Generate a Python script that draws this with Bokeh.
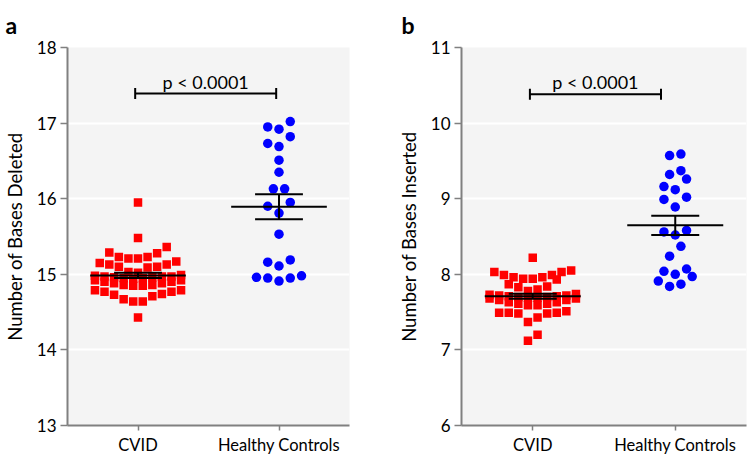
import numpy as np
from bokeh.plotting import figure
from bokeh.layouts import row
from bokeh.models import FixedTicker, Range1d
from bokeh.core.properties import value
from bokeh.embed import file_html
from bokeh.resources import INLINE

# ---------------- data ----------------
categories = ["CVID", "Healthy Controls"]

cvid_deleted = [15.95, 15.48, 15.36, 15.29, 15.28,
                15.23, 15.21, 15.21, 15.23,
                15.17, 15.15, 15.13, 15.13, 15.10, 15.10, 15.09,
                15.03, 15.02,
                14.99, 14.98, 14.97, 14.97, 14.97, 14.96, 14.96, 14.95, 14.95, 14.94,
                14.92, 14.92, 14.90, 14.90, 14.88, 14.88, 14.86, 14.86, 14.85, 14.85,
                14.79, 14.79, 14.77, 14.77, 14.74, 14.73, 14.71, 14.67, 14.64, 14.64,
                14.43]
hc_deleted = [17.02, 16.95, 16.92, 16.82, 16.73, 16.69, 16.51, 16.35, 16.13, 16.13,
              15.95, 15.90, 15.81, 15.53, 15.19, 15.16, 15.11,
              14.98, 14.96, 14.95, 14.95, 14.91]

cvid_inserted = [8.22,
                 8.05, 8.03, 8.03, 7.99, 7.99, 7.96, 7.96, 7.94, 7.94, 7.93,
                 7.87, 7.84, 7.83, 7.80, 7.78, 7.74, 7.73,
                 7.72, 7.72, 7.71, 7.71, 7.70, 7.70, 7.69, 7.69,
                 7.68, 7.68, 7.66, 7.66, 7.63, 7.63, 7.61, 7.61, 7.59, 7.59,
                 7.51, 7.49, 7.49, 7.49, 7.48, 7.48, 7.43,
                 7.37, 7.20, 7.12]
hc_inserted = [9.59, 9.57, 9.37, 9.32, 9.26, 9.16, 9.12, 9.02, 8.99, 8.89,
               8.58, 8.56, 8.52, 8.37, 8.24, 8.07, 8.04, 8.00, 7.97, 7.91, 7.87, 7.84]

y_ticks_deleted = [13, 14, 15, 16, 17, 18]
y_ticks_inserted = [6, 7, 8, 9, 10, 11]

p_label = "p < 0.0001"
sig_deleted = dict(x0=0.48, x1=1.48, y=17.39)
sig_inserted = dict(x0=0.48, x1=1.40, y=10.38)

FONT = "Lato"
HEIGHT = 458
B_TOP, B_BOTTOM = 47, 33


def swarm_slots(vals, h, nmax):
    """Group sorted values into rows; within a row the lowest values sit
    in the centre (Prism-like arrangement). Returns slot units."""
    order = sorted(range(len(vals)), key=lambda i: vals[i])
    rows, cur = [], []
    for i in order:
        if cur and (vals[i] - vals[cur[0]] > h or len(cur) >= nmax):
            rows.append(cur)
            cur = []
        cur.append(i)
    if cur:
        rows.append(cur)
    slots = [0.0] * len(vals)
    for r in rows:
        n = len(r)
        pos = [k - (n - 1) / 2 for k in range(n)]
        pos.sort(key=lambda s: (abs(s), s))
        for idx, s in zip(r, pos):
            slots[idx] = s
    return slots


def panel(letter, ylabel, cvid, hc, yticks, sig, width, bl, br, letter_dx):
    ylo, yhi = yticks[0], yticks[-1]
    p = figure(width=width, height=HEIGHT,
               x_range=Range1d(0, 2), y_range=Range1d(ylo, yhi),
               output_backend="svg", toolbar_location=None, title=letter,
               min_border_left=bl, min_border_right=br,
               min_border_top=B_TOP, min_border_bottom=B_BOTTOM)
    frame_w = width - bl - br
    frame_h = HEIGHT - B_TOP - B_BOTTOM
    ppx = frame_w / 2.0
    ppy = frame_h / float(yhi - ylo)

    centers = [i + 0.5 for i in range(len(categories))]

    # points
    s_c = swarm_slots(cvid, 0.155, 10)
    xc = [centers[0] + s * 9.6 / ppx for s in s_c]
    p.scatter(xc, cvid, marker="square", size=8.5, fill_color="#ff0000", line_color=None)
    s_h = swarm_slots(hc, 0.155, 10)
    xh = [centers[1] + s * 11.3 / ppx for s in s_h]
    p.scatter(xh, hc, marker="circle", size=9.5, fill_color="#0000ff", line_color=None)

    # mean +/- SEM
    for c, vals in zip(centers, [cvid, hc]):
        arr = np.array(vals)
        m = arr.mean()
        sem = arr.std(ddof=1) / np.sqrt(len(arr))
        hw, cw = 48 / ppx, 24 / ppx
        p.segment(x0=[c - hw, c - cw, c - cw, c], y0=[m, m + sem, m - sem, m - sem],
                  x1=[c + hw, c + cw, c + cw, c], y1=[m, m + sem, m - sem, m + sem],
                  line_color="black", line_width=2)

    # significance bracket
    cap = 5.5 / ppy
    p.segment(x0=[sig["x0"], sig["x0"], sig["x1"]], y0=[sig["y"], sig["y"] - cap, sig["y"] - cap],
              x1=[sig["x1"], sig["x0"], sig["x1"]], y1=[sig["y"], sig["y"] + cap, sig["y"] + cap],
              line_color="black", line_width=2)
    p.text(x=[(sig["x0"] + sig["x1"]) / 2], y=[sig["y"] + 12 / ppy], text=[p_label],
           text_align="center", text_baseline="alphabetic",
           text_font=value(FONT), text_font_size="18px", text_color="black")

    # styling
    p.background_fill_color = "#f4f4f4"
    p.border_fill_color = "white"
    p.outline_line_color = None
    p.xgrid.visible = False
    p.ygrid.grid_line_color = "white"
    p.ygrid.grid_line_width = 2

    p.yaxis.ticker = FixedTicker(ticks=yticks)
    p.xaxis.ticker = FixedTicker(ticks=centers)
    p.xaxis.major_label_overrides = {c: n for c, n in zip(centers, categories)}
    for ax in (p.xaxis[0], p.yaxis[0]):
        ax.axis_line_color = "#808080"
        ax.axis_line_width = 2
        ax.major_tick_line_color = "#808080"
        ax.major_tick_line_width = 1.5
        ax.major_tick_in = 0
        ax.major_tick_out = 7
        ax.minor_tick_out = 0
        ax.minor_tick_in = 0
        ax.major_label_text_font = FONT
        ax.major_label_text_font_size = "17px"
        ax.major_label_text_color = "black"
        ax.major_label_standoff = 4
    p.xaxis.major_tick_out = 5
    p.xaxis.major_label_standoff = 4
    p.xaxis.major_label_text_font_size = "16.5px"
    p.yaxis.axis_label = ylabel
    p.yaxis.axis_label_text_font = FONT
    p.yaxis.axis_label_text_font_size = "18.5px"
    p.yaxis.axis_label_text_font_style = "normal"
    p.yaxis.axis_label_text_color = "black"
    p.yaxis.axis_label_standoff = 8

    p.title.text_font = FONT
    p.title.text_font_size = "23px"
    p.title.text_font_style = "bold"
    p.title.text_color = "black"
    p.title.align = "left"
    p.title.offset = -letter_dx
    p.title.standoff = 17
    return p


pa = panel("a", "Number of Bases Deleted", cvid_deleted, hc_deleted, y_ticks_deleted,
           sig_deleted, 375, 66, 26, 62)
pb = panel("b", "Number of Bases Inserted", cvid_inserted, hc_inserted, y_ticks_inserted,
           sig_inserted, 375, 86, 4, 60)

layout = row(pa, pb)
open("out.html", "w").write(file_html(layout, INLINE))
